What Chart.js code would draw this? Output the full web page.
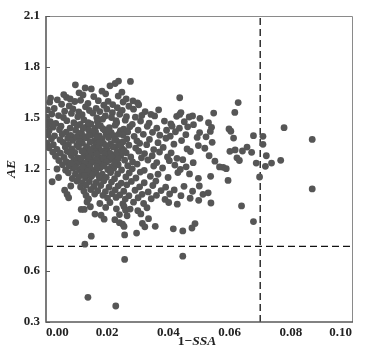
<!DOCTYPE html>
<html>
<head>
<meta charset="utf-8">
<script src="https://cdn.jsdelivr.net/npm/chart.js@4.4.1/dist/chart.umd.min.js"></script>
<style>
  html, body { margin: 0; padding: 0; background: #fff; }
  #wrap { width: 369px; height: 352px; position: relative; }
</style>
</head>
<body>
<div id="wrap"><canvas id="scatter"></canvas></div>
<script>
// 1-SSA (x) and AE (y); lines of the two arrays pair up
var ssa = [
  0.0096, 0.0226, 0.0237, 0.0276, 0.0128, 0.0148, 0.0209, 0.0183, 0.0108, 0.0121, 0.0195, 0.0248,
  0.0015, 0.0037, 0.0067, 0.0079, 0.0113, 0.0156, 0.0203, 0.0236, 0.0437, 0.0058, 0.0284, 0.0299, 0.0262,
  0.0012, 0.0051, 0.0094, 0.0137, 0.0171, 0.0218, 0.0252,
  0.0076, 0.0129, 0.0164, 0.0189, 0.0233, 0.0271, 0.0303, 0.0628,
  0.0005, 0.0027, 0.0061, 0.0088, 0.0107, 0.0142, 0.0176, 0.0199, 0.0217, 0.0249, 0.0286, 0.0324, 0.0368,
  0.0019, 0.0041, 0.0083, 0.0118, 0.0153, 0.0194, 0.0241, 0.0263, 0.0313, 0.0343, 0.0441, 0.0548, 0.0617,
  0.0002, 0.0057, 0.0104, 0.0166, 0.0214, 0.0292, 0.0355, 0.0427, 0.0437, 0.0468, 0.0479, 0.0503,
  0.0000, 0.0014, 0.0032, 0.0068, 0.0091, 0.0124, 0.0147, 0.0168, 0.0185, 0.0231,
  0.0259, 0.0282, 0.0309, 0.0337, 0.0387, 0.0408, 0.0452, 0.0482, 0.0531, 0.0598,
  0.0004, 0.0023, 0.0049, 0.0079, 0.0102, 0.0133, 0.0159, 0.0178, 0.0207, 0.0226,
  0.0254, 0.0274, 0.0331, 0.0362, 0.0412, 0.0436, 0.0463, 0.0541, 0.0778,
  0.0010, 0.0044, 0.0066, 0.0097, 0.0116, 0.0139, 0.0162, 0.0192, 0.0213, 0.0243,
  0.0267, 0.0301, 0.0348, 0.0394, 0.0423, 0.0502, 0.0604, 0.0537,
  0.0006, 0.0028, 0.0053, 0.0081, 0.0108, 0.0127, 0.0151, 0.0174, 0.0197, 0.0222,
  0.0251, 0.0288, 0.0318, 0.0372, 0.0406, 0.0457, 0.0494, 0.0523, 0.0678, 0.0709,
  0.0018, 0.0046, 0.0071, 0.0087, 0.0114, 0.0131, 0.0157, 0.0183, 0.0204,
  0.0229, 0.0264, 0.0297, 0.0338, 0.0392, 0.0443, 0.0613, 0.0870,
  0.0003, 0.0024, 0.0056, 0.0073, 0.0101, 0.0119, 0.0144, 0.0163, 0.0188, 0.0211,
  0.0238, 0.0271, 0.0306, 0.0329, 0.0366, 0.0418, 0.0498, 0.0543, 0.0709, 0.0657,
  0.0009, 0.0036, 0.0063, 0.0084, 0.0106, 0.0128, 0.0154, 0.0172, 0.0199,
  0.0227, 0.0249, 0.0293, 0.0352, 0.0383, 0.0461, 0.0519, 0.0618, 0.0642,
  0.0022, 0.0047, 0.0069, 0.0094, 0.0117, 0.0136, 0.0161, 0.0181, 0.0209,
  0.0233, 0.0262, 0.0303, 0.0322, 0.0371, 0.0409, 0.0472, 0.0601, 0.0672,
  0.0031, 0.0059, 0.0083, 0.0103, 0.0126, 0.0149, 0.0173, 0.0196, 0.0218,
  0.0244, 0.0277, 0.0312, 0.0347, 0.0397, 0.0428, 0.0533, 0.0720, 0.0624,
  0.0042, 0.0066, 0.0092, 0.0111, 0.0137, 0.0156, 0.0179, 0.0207, 0.0226, 0.0257,
  0.0283, 0.0333, 0.0362, 0.0403, 0.0447, 0.0481, 0.0552, 0.0767, 0.0632,
  0.0054, 0.0076, 0.0099, 0.0123, 0.0143, 0.0169, 0.0191, 0.0214,
  0.0236, 0.0267, 0.0298, 0.0352, 0.0421, 0.0458, 0.0737, 0.0687,
  0.0036, 0.0064, 0.0089, 0.0109, 0.0134, 0.0153, 0.0177, 0.0202, 0.0221,
  0.0247, 0.0282, 0.0321, 0.0381, 0.0439, 0.0579, 0.0589, 0.0567, 0.0717,
  0.0073, 0.0096, 0.0117, 0.0141, 0.0163, 0.0184, 0.0211, 0.0234, 0.0272, 0.0308, 0.0366, 0.0431, 0.0469,
  0.0041, 0.0086, 0.0107, 0.0129, 0.0148, 0.0176, 0.0197, 0.0224, 0.0261, 0.0294, 0.0341, 0.0399, 0.0498, 0.0538, 0.0698,
  0.0020, 0.0101, 0.0119, 0.0142, 0.0164, 0.0189, 0.0214, 0.0246, 0.0279, 0.0321, 0.0359, 0.0595,
  0.0081, 0.0113, 0.0131, 0.0156, 0.0179, 0.0206, 0.0236, 0.0264, 0.0306, 0.0349, 0.0391, 0.0451, 0.0501,
  0.0061, 0.0124, 0.0146, 0.0169, 0.0194, 0.0226, 0.0254, 0.0291, 0.0334, 0.0376, 0.0419, 0.0479, 0.0870,
  0.0069, 0.0131, 0.0159, 0.0186, 0.0216, 0.0241, 0.0271, 0.0314, 0.0361, 0.0404, 0.0441, 0.0513, 0.0530,
  0.0074, 0.0139, 0.0201, 0.0229, 0.0259, 0.0301, 0.0344, 0.0389, 0.0471,
  0.0134, 0.0176, 0.0209, 0.0251, 0.0286, 0.0319, 0.0401, 0.0429, 0.0499, 0.0539,
  0.0145, 0.0195, 0.0255, 0.0330, 0.0639, 0.0115, 0.0125, 0.0230, 0.0260, 0.0275, 0.0300,
  0.0160, 0.0180, 0.0240, 0.0265, 0.0310, 0.0190, 0.0225, 0.0335,
  0.0097, 0.0678, 0.0240, 0.0250, 0.0315, 0.0487, 0.0323, 0.0357, 0.0477, 0.0255, 0.0416, 0.0447,
  0.0257, 0.0296, 0.0148, 0.0127, 0.0447, 0.0257, 0.0137, 0.0228,
  0.0112, 0.0138, 0.0171, 0.0186, 0.0229, 0.0121, 0.0152, 0.0203, 0.0238, 0.0099,
  0.0141, 0.0168, 0.0224, 0.0252, 0.0109, 0.0133, 0.0175, 0.0196, 0.0218, 0.0244,
  0.0121, 0.0146, 0.0166, 0.0191, 0.0228, 0.0255, 0.0114, 0.0139, 0.0164, 0.0188,
  0.0213, 0.0236, 0.0127, 0.0149, 0.0171, 0.0198, 0.0224, 0.0119, 0.0143, 0.0166,
  0.0189, 0.0211, 0.0136, 0.0158, 0.0126, 0.0152, 0.0173, 0.0094, 0.0081, 0.0078
];
var ae = [
  1.695, 1.703, 1.717, 1.715, 1.677, 1.671, 1.689, 1.658, 1.648, 1.636, 1.642, 1.652,
  1.617, 1.607, 1.621, 1.612, 1.604, 1.626, 1.598, 1.629, 1.619, 1.638, 1.601, 1.589, 1.612,
  1.593, 1.581, 1.597, 1.586, 1.602, 1.579, 1.594,
  1.571, 1.566, 1.557, 1.575, 1.561, 1.569, 1.578, 1.591,
  1.548, 1.556, 1.540, 1.553, 1.536, 1.544, 1.538, 1.552, 1.531, 1.545, 1.552, 1.538, 1.548,
  1.523, 1.514, 1.527, 1.519, 1.529, 1.512, 1.522, 1.508, 1.515, 1.521, 1.532, 1.529, 1.533,
  1.505, 1.503, 1.507, 1.501, 1.503, 1.505, 1.512, 1.510, 1.521, 1.506, 1.512, 1.498,
  1.490, 1.478, 1.468, 1.484, 1.472, 1.489, 1.466, 1.480, 1.493, 1.472,
  1.487, 1.463, 1.482, 1.470, 1.482, 1.466, 1.478, 1.461, 1.472, 1.436,
  1.458, 1.446, 1.452, 1.441, 1.458, 1.447, 1.439, 1.455, 1.443, 1.458,
  1.435, 1.449, 1.451, 1.440, 1.452, 1.440, 1.448, 1.445, 1.443,
  1.425, 1.431, 1.417, 1.428, 1.412, 1.430, 1.419, 1.427, 1.414, 1.426,
  1.418, 1.429, 1.416, 1.428, 1.419, 1.414, 1.422, 1.421,
  1.402, 1.395, 1.404, 1.398, 1.407, 1.391, 1.403, 1.394, 1.405, 1.396,
  1.401, 1.392, 1.404, 1.399, 1.393, 1.402, 1.386, 1.389, 1.396, 1.392,
  1.378, 1.372, 1.382, 1.368, 1.376, 1.384, 1.366, 1.378, 1.385,
  1.369, 1.377, 1.366, 1.374, 1.381, 1.367, 1.382, 1.374,
  1.352, 1.343, 1.357, 1.345, 1.339, 1.352, 1.358, 1.341, 1.350, 1.347,
  1.356, 1.340, 1.351, 1.343, 1.355, 1.346, 1.338, 1.357, 1.345, 1.329,
  1.325, 1.316, 1.329, 1.318, 1.331, 1.313, 1.322, 1.330, 1.315,
  1.327, 1.318, 1.323, 1.314, 1.327, 1.318, 1.322, 1.312, 1.306,
  1.300, 1.293, 1.304, 1.297, 1.306, 1.290, 1.301, 1.308, 1.293,
  1.302, 1.295, 1.305, 1.291, 1.300, 1.295, 1.303, 1.304, 1.298,
  1.275, 1.268, 1.279, 1.266, 1.277, 1.282, 1.269, 1.276, 1.264,
  1.280, 1.271, 1.266, 1.278, 1.271, 1.263, 1.278, 1.278, 1.266,
  1.250, 1.243, 1.254, 1.241, 1.256, 1.247, 1.240, 1.254, 1.245, 1.252,
  1.242, 1.253, 1.238, 1.249, 1.255, 1.237, 1.246, 1.251, 1.250,
  1.225, 1.218, 1.229, 1.216, 1.227, 1.221, 1.232, 1.214,
  1.225, 1.219, 1.229, 1.217, 1.223, 1.213, 1.235, 1.235,
  1.200, 1.193, 1.205, 1.197, 1.203, 1.192, 1.207, 1.197, 1.204,
  1.194, 1.201, 1.192, 1.206, 1.197, 1.210, 1.202, 1.212, 1.216,
  1.178, 1.171, 1.181, 1.173, 1.183, 1.169, 1.179, 1.171, 1.177, 1.182, 1.169, 1.179, 1.171,
  1.150, 1.144, 1.153, 1.147, 1.156, 1.145, 1.151, 1.143, 1.153, 1.147, 1.157, 1.150, 1.145, 1.157, 1.153,
  1.125, 1.129, 1.119, 1.126, 1.121, 1.131, 1.123, 1.117, 1.127, 1.119, 1.129, 1.133,
  1.100, 1.094, 1.105, 1.097, 1.103, 1.093, 1.101, 1.107, 1.095, 1.103, 1.093, 1.098, 1.100,
  1.075, 1.069, 1.079, 1.072, 1.067, 1.077, 1.069, 1.075, 1.065, 1.073, 1.077, 1.069, 1.083,
  1.050, 1.044, 1.053, 1.045, 1.055, 1.047, 1.043, 1.051, 1.045, 1.053, 1.043, 1.051, 1.060,
  1.031, 1.024, 1.029, 1.033, 1.023, 1.031, 1.025, 1.021, 1.028,
  1.006, 0.997, 1.003, 0.995, 1.005, 0.997, 1.003, 0.993, 1.016, 1.000,
  0.978, 0.974, 0.980, 0.972, 0.983, 0.962, 0.962, 0.966, 0.958, 0.964, 0.955,
  0.935, 0.928, 0.932, 0.925, 0.936, 0.905, 0.902, 0.908,
  0.885, 0.891, 0.884, 0.876, 0.880, 0.879, 0.860, 0.863, 0.853, 0.862, 0.848, 0.836,
  0.812, 0.823, 0.805, 0.758, 0.687, 0.668, 0.445, 0.394,
  1.463, 1.472, 1.458, 1.437, 1.484, 1.441, 1.418, 1.428, 1.405, 1.388,
  1.397, 1.386, 1.372, 1.361, 1.362, 1.331, 1.356, 1.338, 1.331, 1.338,
  1.302, 1.311, 1.288, 1.288, 1.287, 1.309, 1.262, 1.264, 1.257, 1.262,
  1.272, 1.261, 1.236, 1.238, 1.232, 1.241, 1.236, 1.211, 1.213, 1.212,
  1.218, 1.188, 1.187, 1.176, 1.162, 1.166, 1.158, 1.212, 1.236, 1.297
];

var xTicks = [0, 0.02, 0.04, 0.06, 0.08, 0.10];
var yTicks = [0.3, 0.6, 0.9, 1.2, 1.5, 1.8, 2.1];
var ssaCut = 0.07;   // vertical dashed line
var aeCut = 0.745;   // horizontal dashed line

var points = ssa.map(function (x, i) { return { x: x, y: ae[i] }; });
var fontFamily = "'Liberation Serif', 'DejaVu Serif', serif";

// frame, inward y ticks and the mixed-style axis titles
var framePlugin = {
  id: "frame",
  afterDraw: function (chart) {
    var ctx = chart.ctx;
    var a = chart.chartArea;
    var ys = chart.scales.y;
    ctx.save();
    ctx.strokeStyle = "#8a8a8a";
    ctx.lineWidth = 1;
    ctx.beginPath();
    ctx.moveTo(a.left, a.top + 0.5);
    ctx.lineTo(a.right + 0.5, a.top + 0.5);
    ctx.lineTo(a.right + 0.5, a.bottom);
    ctx.stroke();
    ctx.strokeStyle = "#5a5a5a";
    ctx.lineWidth = 1.6;
    ctx.beginPath();
    ctx.moveTo(a.left, a.top);
    ctx.lineTo(a.left, a.bottom);
    ctx.lineTo(a.right + 1, a.bottom);
    ctx.stroke();
    ctx.lineWidth = 1;
    yTicks.forEach(function (v) {
      var py = Math.round(ys.getPixelForValue(v)) + 0.5;
      ctx.beginPath();
      ctx.moveTo(a.left, py);
      ctx.lineTo(a.left + 4, py);
      ctx.stroke();
    });

    ctx.fillStyle = "#222";
    ctx.textBaseline = "middle";
    // x title: "1−" upright, "SSA" italic
    var upright = "bold 13.5px " + fontFamily;
    var italic = "italic bold 13.5px " + fontFamily;
    ctx.font = upright;
    var w1 = ctx.measureText("1\u2212").width;
    ctx.font = italic;
    var w2 = ctx.measureText("SSA").width;
    var cx = (a.left + a.right) / 2 - 2;
    var x0 = cx - (w1 + w2) / 2;
    ctx.textAlign = "left";
    ctx.font = upright;
    ctx.fillText("1\u2212", x0, 342);
    ctx.font = italic;
    ctx.fillText("SSA", x0 + w1, 342);
    // y title
    ctx.translate(12, (a.top + a.bottom) / 2);
    ctx.rotate(-Math.PI / 2);
    ctx.textAlign = "center";
    ctx.fillText("AE", 0, 0);
    ctx.restore();
  }
};

new Chart(document.getElementById("scatter"), {
  type: "scatter",
  data: {
    datasets: [
      {
        data: points,
        backgroundColor: "#565656",
        borderWidth: 0,
        pointRadius: 3.4,
        pointHoverRadius: 3.4
      },
      {
        type: "line",
        data: [{ x: ssaCut, y: 0.3 }, { x: ssaCut, y: 2.1 }],
        borderColor: "#111",
        borderWidth: 1.3,
        borderDash: [7, 4],
        pointRadius: 0,
        fill: false
      },
      {
        type: "line",
        data: [{ x: 0, y: aeCut }, { x: 0.1, y: aeCut }],
        borderColor: "#111",
        borderWidth: 1.3,
        borderDash: [7, 4],
        pointRadius: 0,
        fill: false
      }
    ]
  },
  options: {
    responsive: true,
    maintainAspectRatio: false,
    animation: false,
    layout: { padding: { top: 16, right: 17, left: 0, bottom: 0 } },
    plugins: { legend: { display: false }, tooltip: { enabled: false } },
    scales: {
      x: {
        type: "linear",
        min: 0,
        max: 0.1,
        afterBuildTicks: function (scale) {
          scale.ticks = xTicks.map(function (v) { return { value: v }; });
        },
        afterFit: function (scale) { scale.height = 30; },
        grid: { display: false, drawTicks: false },
        border: { display: false },
        ticks: {
          align: "inner",
          padding: 3,
          color: "#222",
          font: { family: fontFamily, size: 13, weight: "bold" },
          callback: function (v) { return Number(v).toFixed(2); }
        }
      },
      y: {
        type: "linear",
        min: 0.3,
        max: 2.1,
        afterBuildTicks: function (scale) {
          scale.ticks = yTicks.map(function (v) { return { value: v }; });
        },
        afterFit: function (scale) { scale.width = 46; },
        grid: { display: false, drawTicks: false },
        border: { display: false },
        ticks: {
          padding: 6,
          color: "#222",
          font: { family: fontFamily, size: 13, weight: "bold" },
          callback: function (v) { return Number(v).toFixed(1); }
        }
      }
    }
  },
  plugins: [framePlugin]
});
</script>
</body>
</html>
